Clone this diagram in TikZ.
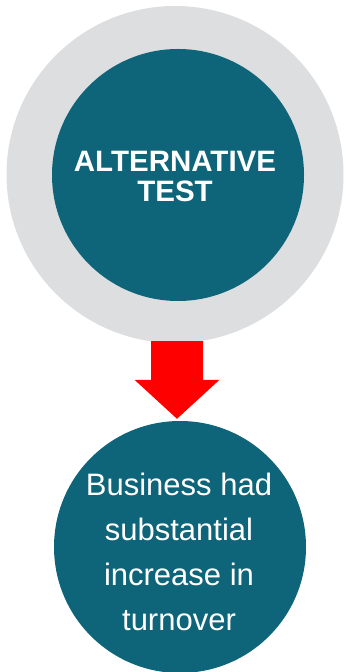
\documentclass[tikz,border=0pt]{standalone}
\usepackage{fontspec}
\setmainfont{Liberation Sans}
\usepackage{tikz}
\usetikzlibrary{calc}
\definecolor{ringgray}{RGB}{221,222,224}
\definecolor{tealdark}{RGB}{14,100,121}

\begin{document}
\begin{tikzpicture}[x=1pt, y=1pt,
  disc/.style={circle, fill=tealdark, inner sep=0pt, minimum size=252pt},
  every node/.style={text=white, align=center}]
\useasboundingbox (0,0) rectangle (345,672);
\node[circle, fill=ringgray, inner sep=0pt, minimum size=337pt] (ring) at (175,497.5) {};
\node[disc] (test) at (178,497) {};
\node[font=\fontsize{29.5}{30}\selectfont\bfseries] (testlbl) at ([xshift=-3pt,yshift=-2pt]test.center) {ALTERNATIVE\\TEST};
\node[disc] (turn) at (180,125) {};
\node[font=\fontsize{31}{45}\selectfont] (turnlbl) at ([xshift=-1pt,yshift=-5pt]turn.center) {Business had\\substantial\\increase in\\turnover};
\def\sw{26}\def\hw{42.5}
\coordinate (top) at ($(ring.south)+(2,0)$);
\coordinate (tip) at ($(turn.north)+(-3,2)$);
\fill[red] ($(top)+(-\sw,2)$) -- ($(top)+(\sw,2)$) -- ($(tip)+(\sw,39)$) -- ($(tip)+(\hw,39)$)
  -- (tip) -- ($(tip)+(-\hw,39)$) -- ($(tip)+(-\sw,39)$) -- cycle;
\end{tikzpicture}
\end{document}
